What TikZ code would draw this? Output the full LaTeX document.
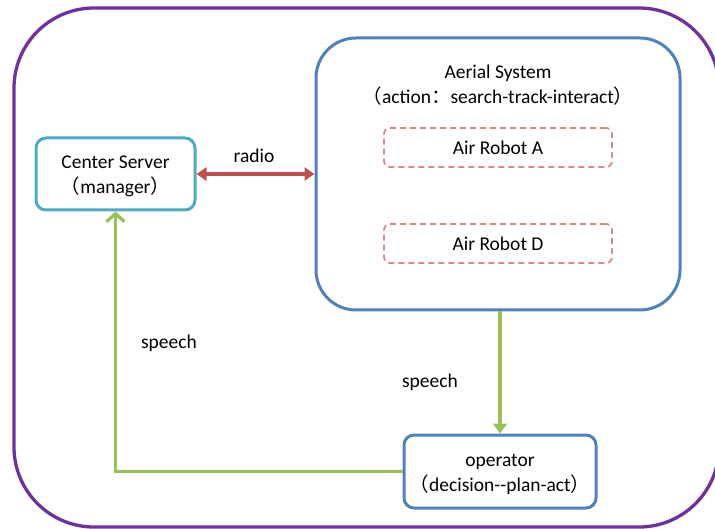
\documentclass[tikz,border=0pt]{standalone}
\usepackage{fontspec}
\setmainfont{Carlito}
\newfontfamily\cjk{Noto Sans CJK SC}
\usepackage{tikz}
\usetikzlibrary{arrows.meta}

\definecolor{framepurple}{HTML}{7030A0}
\definecolor{boxblue}{HTML}{4F81BD}
\definecolor{boxteal}{HTML}{4BACC6}
\definecolor{radiored}{HTML}{C0504D}
\definecolor{robotred}{HTML}{D68A8A}
\definecolor{speechgreen}{HTML}{96C454}

\tikzset{
	box/.style={draw, line width=3pt, rounded corners=10, align=center, inner sep=0pt},
	robotbox/.style={draw=robotred, line width=1.8pt, rounded corners=6, dash pattern=on 6pt off 4pt, minimum width=228, minimum height=39},
	speechline/.style={draw=speechgreen, line width=3.3pt},
	txt/.style={font=\fontsize{19.5}{25}\selectfont, align=center, inner sep=0pt}
}

\begin{document}
\begin{tikzpicture}[x=1pt, y=-1pt]
		%%%%% START %%%%%
		\useasboundingbox (0, 0) rectangle (715, 529);
		
		% outer frame
		\begin{scope}
			\clip (0, 0) rectangle (715, 529);
			\draw[framepurple, line width=3.3pt, rounded corners=80] (14, 8) rectangle (719, 527);
		\end{scope}
		
		% boxes
		\node[box, draw=boxteal, minimum width=159, minimum height=72] (server) at (115.5, 174) {};
		\node[txt] at (115.5, 176) {Center Server\\{\cjk （}manager{\cjk ）}};
		
		\node[box, draw=boxblue, rounded corners=40, minimum width=364, minimum height=272] (aerial) at (498, 174) {};
		\node[txt] (aerialtitle) at (498, 85) {Aerial System\\{\cjk （}action{\cjk ：}search-track-interact{\cjk ）}};
		
		\node[robotbox] (robotA) at (498, 147.5) {};
		\node[txt] at (robotA) {Air Robot A};
		\node[robotbox] (robotD) at (498, 243.5) {};
		\node[txt] at (robotD) {Air Robot D};
		
		\node[box, draw=boxblue, minimum width=192, minimum height=73] (operator) at (500, 471.5) {};
		\node[txt] at (500, 474) {operator\\{\cjk （}decision-{}-plan-act{\cjk ）}};
		
		% links
		\draw[radiored, line width=3.3pt, {Triangle[length=10pt,width=13pt]}-{Triangle[length=10pt,width=13pt]}] (server.east) -- (aerial.west);
		\node[txt] (radio) at (254, 156) {radio};
		
		\draw[speechline, -{Triangle[length=10pt,width=14pt]}] (operator.north |- aerial.south) -- (operator.north);
		\node[txt] (speechA) at (430, 382) {speech};
		
		\draw[speechline, -{Straight Barb[length=8pt,width=18pt]}] (operator.west) -| (server.south);
		\node[txt] (speechB) at (169, 343) {speech};
		
		%%%%% END %%%%%
	\end{tikzpicture}
\end{document}
